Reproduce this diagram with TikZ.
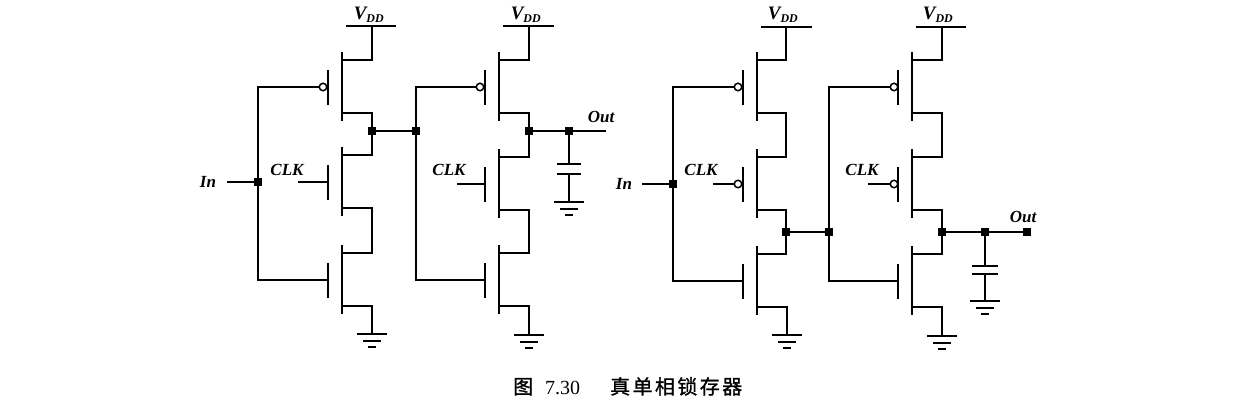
\documentclass[tikz,border=0pt]{standalone}
\usepackage{fontspec}
\setmainfont{Liberation Serif}
\newfontfamily\cjk[LetterSpace=12,FakeBold=1]{Noto Sans CJK SC}

% one transistor: name, channel x, gate y
\newcommand{\fet}[3]{
    \draw[wire] (#2,#3-35) -- (#2,#3+34);
    \draw[wire] (#2-14,#3-17) -- (#2-14,#3+18);
    \coordinate (#1g) at (#2-14,#3);
    \coordinate (#1t) at (#2,#3-27);
    \coordinate (#1b) at (#2,#3+26);
}
% three bars of a ground, hung under a coordinate
\newcommand{\gnd}[1]{
    \draw[wire] ([xshift=-15pt]#1) -- ([xshift=15pt]#1);
    \draw[wire] ([xshift=-9pt,yshift=-7pt]#1) -- ([xshift=9pt,yshift=-7pt]#1);
    \draw[wire] ([xshift=-4pt,yshift=-13pt]#1) -- ([xshift=4pt,yshift=-13pt]#1);
}
\newcommand{\vdd}{{\fontsize{19}{19}\selectfont V}\textsubscript{DD}}

\begin{document}
\begin{tikzpicture}[x=1pt,y=-1pt,
    wire/.style={line width=1.6pt},
    dot/.style={shape=rectangle,fill=black,inner sep=0pt,minimum size=8pt},
    bubble/.style={shape=circle,draw,line width=1.5pt,fill=white,inner sep=0pt,minimum size=7.5pt},
    lbl/.style={font=\fontsize{17}{17}\selectfont\itshape\bfseries,inner sep=0pt},
    captext/.style={font=\fontsize{20}{20}\selectfont,inner sep=0pt,anchor=base west}]
\useasboundingbox (0,0) rectangle (1251,406);

%%% left latch
\fet{ma}{342}{87}
\fet{mb}{342}{182}
\fet{mc}{342}{280}
\fet{md}{499}{87}
\fet{me}{499}{184}
\fet{mf}{499}{280}

\coordinate (vdda) at (372,26);
\coordinate (vddb) at (529,26);
\coordinate (gnda) at (372,334);
\coordinate (gndb) at (529,335);
\coordinate (clka) at (298,182);
\coordinate (clkb) at (457,184);

\node[bubble] (ba) at (323,87) {};
\node[bubble] (bd) at (480,87) {};
\node[dot] (ina) at (258,182) {};
\node[dot] (xa) at (372,131) {};
\node[dot] (xb) at (416,131) {};
\node[dot] (xc) at (529,131) {};
\node[dot] (xd) at (569,131) {};
\coordinate (outa) at (606,131);

\node[lbl] (tina) at (208,182) {In};
\node[lbl] (tclka) at (287,170) {CLK};
\node[lbl] (tclkb) at (449,170) {CLK};
\node[lbl] (tvdda) at (369,15) {\vdd};
\node[lbl] (tvddb) at (526,15) {\vdd};
\node[lbl] (touta) at (601,117) {Out};

\coordinate (ca) at (227,182);
\draw[wire] (ca) -- (ina);
\draw[wire] (ba) -- (258,87) -- (258,280) -- (mcg);
\draw[wire] (clka) -- (mbg);
\draw[wire] (vdda) -- (vdda |- mat) -- (mat);
\draw[wire] (mab) -- (xa |- mab) -- (xa |- mbt) -- (mbt);
\draw[wire] (mbb) -- (xa |- mbb) -- (xa |- mct) -- (mct);
\draw[wire] (mcb) -- (gnda |- mcb) -- (gnda);
\draw[wire] (xa) -- (xb);
\draw[wire] (bd) -- (416,87) -- (416,280) -- (mfg);
\draw[wire] (clkb) -- (meg);
\draw[wire] (vddb) -- (vddb |- mdt) -- (mdt);
\draw[wire] (mdb) -- (xc |- mdb) -- (xc |- met) -- (met);
\draw[wire] (meb) -- (xc |- meb) -- (xc |- mft) -- (mft);
\draw[wire] (mfb) -- (gndb |- mfb) -- (gndb);
\draw[wire] (xc) -- (xd) -- (outa);
\draw[wire] ([xshift=-26pt]vdda) -- ([xshift=24pt]vdda);
\draw[wire] ([xshift=-26pt]vddb) -- ([xshift=25pt]vddb);
\gnd{gnda}
\gnd{gndb}
% load capacitor
\coordinate (pa) at (569,164);
\coordinate (pb) at (569,174);
\coordinate (gndc) at (569,202);
\draw[wire] (xd) -- (pa);
\draw[wire] (pb) -- (gndc);
\draw[wire] ([xshift=-12pt]pa) -- ([xshift=12pt]pa);
\draw[wire] ([xshift=-12pt]pb) -- ([xshift=12pt]pb);
\gnd{gndc}

%%% right latch
\fet{mg}{757}{87}
\fet{mh}{757}{184}
\fet{mi}{757}{281}
\fet{mj}{912}{87}
\fet{mk}{912}{184}
\fet{ml}{912}{281}

\coordinate (vddc) at (786,27);
\coordinate (vddd) at (942,27);
\coordinate (gndd) at (787,335);
\coordinate (gnde) at (942,336);
\coordinate (clkc) at (713,184);
\coordinate (clkd) at (868,184);

\node[bubble] (bg) at (738,87) {};
\node[bubble] (bh) at (738,184) {};
\node[bubble] (bj) at (894,87) {};
\node[bubble] (bk) at (894,184) {};
\node[dot] (inb) at (673,184) {};
\node[dot] (ya) at (786,232) {};
\node[dot] (yb) at (829,232) {};
\node[dot] (yc) at (942,232) {};
\node[dot] (yd) at (985,232) {};
\node[dot] (outb) at (1027,232) {};

\node[lbl] (tinb) at (624,184) {In};
\node[lbl] (tclkc) at (701,170) {CLK};
\node[lbl] (tclkd) at (862,170) {CLK};
\node[lbl] (tvddc) at (783,15) {\vdd};
\node[lbl] (tvddd) at (938,15) {\vdd};
\node[lbl] (toutb) at (1023,217) {Out};

\coordinate (cb) at (642,184);
\draw[wire] (cb) -- (inb);
\draw[wire] (bg) -- (673,87) -- (673,281) -- (mig);
\draw[wire] (clkc) -- (bh);
\draw[wire] (vddc) -- (vddc |- mgt) -- (mgt);
\draw[wire] (mgb) -- (ya |- mgb) -- (ya |- mht) -- (mht);
\draw[wire] (mhb) -- (ya |- mhb) -- (ya |- mit) -- (mit);
\draw[wire] (mib) -- (gndd |- mib) -- (gndd);
\draw[wire] (ya) -- (yb);
\draw[wire] (bj) -- (829,87) -- (829,281) -- (mlg);
\draw[wire] (clkd) -- (bk);
\draw[wire] (vddd) -- (vddd |- mjt) -- (mjt);
\draw[wire] (mjb) -- (yc |- mjb) -- (yc |- mkt) -- (mkt);
\draw[wire] (mkb) -- (yc |- mkb) -- (yc |- mlt) -- (mlt);
\draw[wire] (mlb) -- (gnde |- mlb) -- (gnde);
\draw[wire] (yc) -- (yd) -- (outb);
\draw[wire] ([xshift=-25pt]vddc) -- ([xshift=26pt]vddc);
\draw[wire] ([xshift=-26pt]vddd) -- ([xshift=24pt]vddd);
\gnd{gndd}
\gnd{gnde}
% load capacitor
\coordinate (pc) at (985,266);
\coordinate (pd) at (985,274);
\coordinate (gndf) at (985,301);
\draw[wire] (yd) -- (pc);
\draw[wire] (pd) -- (gndf);
\draw[wire] ([xshift=-13pt]pc) -- ([xshift=13pt]pc);
\draw[wire] ([xshift=-13pt]pd) -- ([xshift=13pt]pd);
\gnd{gndf}

%%% caption
\node[captext] (figfig) at (513,394) {{\cjk 图}};
\node[captext] (fignum) at (545,394) {7.30};
\node[captext] (figname) at (610,394) {\cjk 真单相锁存器};
\end{tikzpicture}
\end{document}
